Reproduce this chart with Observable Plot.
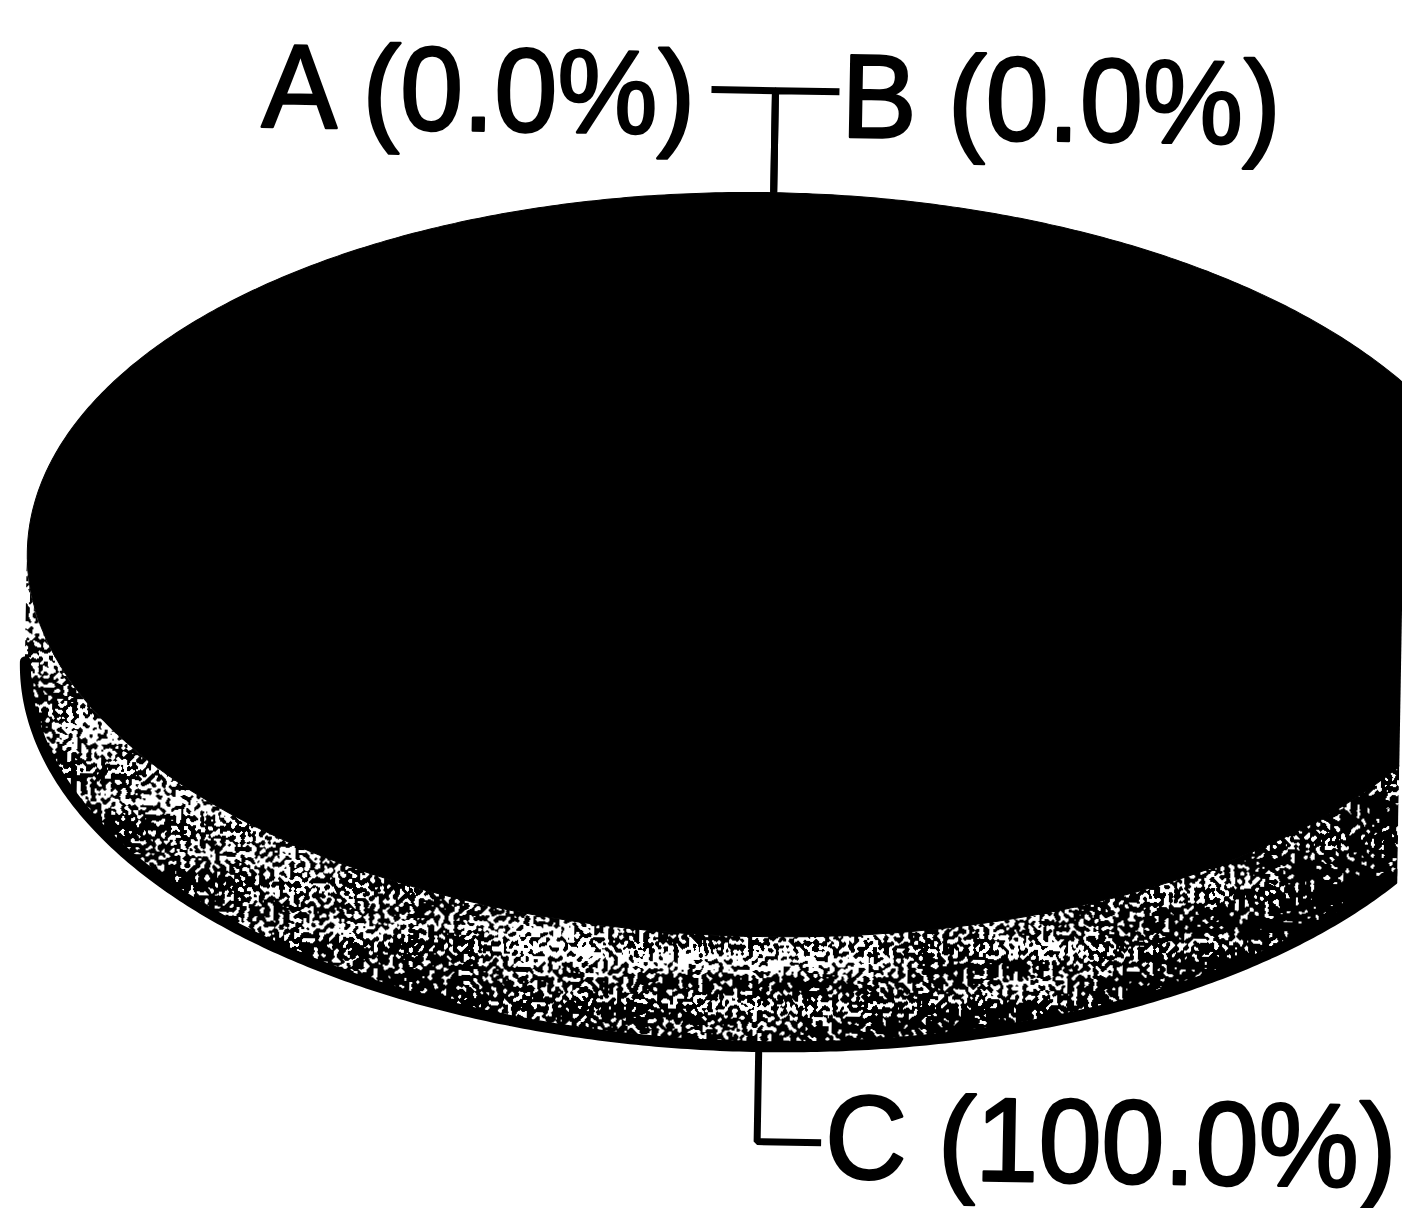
<!DOCTYPE html>
<html>
<head>
<meta charset="utf-8">
<script src="https://cdn.jsdelivr.net/npm/d3@7"></script>
<script src="https://cdn.jsdelivr.net/npm/@observablehq/plot@0.6"></script>
<style>
  html, body { margin: 0; padding: 0; background: #fff; overflow: hidden; }
  #chart svg { display: block; transform: rotate(1deg); transform-origin: 701px 604px; }
</style>
</head>
<body>
<div id="chart"></div>
<script>
// ---- data ----
const categories = ["A", "B", "C"];
const values = [0, 0, 100];

// ---- layout (geometry of the 3D ellipse, pixels) ----
const W = 1402, H = 1208;
const cx = 766, cy = 563, rx = 740, ry = 372, depth = 110;
const fontSize = 113;

const total = d3.sum(values);
const arcs = d3.pie().sort(null).value(d => d.value)(
  categories.map((c, i) => ({cat: c, value: values[i]}))
);
const P = a => [cx + rx * Math.sin(a), cy - ry * Math.cos(a)];
const step = Math.PI / 360;

// top face polygons, one per slice
const topFace = [];
arcs.forEach(a => {
  if (a.endAngle <= a.startAngle) return;
  topFace.push({cat: a.data.cat, x: cx, y: cy});
  for (let t = a.startAngle; t < a.endAngle; t += step) {
    const [x, y] = P(t); topFace.push({cat: a.data.cat, x, y});
  }
  const [x, y] = P(a.endAngle); topFace.push({cat: a.data.cat, x, y});
  topFace.push({cat: a.data.cat, x: cx, y: cy});
});

// visible side (front half) of each slice
const side = [];
arcs.forEach(a => {
  const s = Math.max(a.startAngle, Math.PI / 2), e = Math.min(a.endAngle, 3 * Math.PI / 2);
  if (e <= s) return;
  for (let t = s; t < e; t += step) {
    const [x, y] = P(t); side.push({cat: a.data.cat, x, y1: y, y2: y + depth});
  }
  const [x, y] = P(e); side.push({cat: a.data.cat, x, y1: y, y2: y + depth});
});

// labels and leader lines
const leaders = [];
const labels = [];
let topCount = 0;
arcs.forEach(a => {
  const m = (a.startAngle + a.endAngle) / 2;
  const pct = total ? a.data.value / total * 100 : 0;
  const text = `${a.data.cat} (${pct.toFixed(1)}%)`;
  if (Math.cos(m) >= 0) {
    const [ax, ay] = P(m);
    const ey = ay - 102;
    const dir = topCount++ % 2 === 0 ? -1 : 1;
    const end = ax + dir * 64;
    leaders.push({cat: a.data.cat, x: ax, y: ay}, {cat: a.data.cat, x: ax, y: ey}, {cat: a.data.cat, x: end, y: ey});
    labels.push({text, x: dir < 0 ? end - 16 : end + 2, y: ey + 45, anchor: dir < 0 ? "end" : "start"});
  } else {
    const [ax, ay0] = P(m);
    const ay = ay0 + depth;
    const ey = ay + 95;
    const end = ax + 64;
    leaders.push({cat: a.data.cat, x: ax, y: ay}, {cat: a.data.cat, x: ax, y: ey}, {cat: a.data.cat, x: end, y: ey});
    labels.push({text, x: end + 4, y: ey + 35, anchor: "start"});
  }
});

const textOpts = {x: "x", y: "y", text: "text", fontSize, fontFamily: "Liberation Sans, Arial, Helvetica, sans-serif",
  fill: "black", stroke: "black", strokeWidth: 2.5, lineAnchor: "bottom"};

const svg = Plot.plot({
  width: W, height: H, margin: 0,
  style: {background: "white"},
  x: {type: "identity", axis: null},
  y: {type: "identity", axis: null},
  marks: [
    // side of the disc (shading bands are combined and dithered below)
    Plot.area(side, {x1: "x", y1: "y1", y2: "y2", z: "cat", fill: "url(#sideShade)"}),
    Plot.area(side, {x1: "x", y1: "y1", y2: d => d.y1 + depth * 0.35, z: "cat", fill: "white", fillOpacity: 0.12}),
    Plot.area(side, {x1: "x", y1: d => d.y2 - depth * 0.3, y2: "y2", z: "cat", fill: "black", fillOpacity: 0.2}),
    Plot.line(side, {x: "x", y: "y2", z: "cat", stroke: "black", strokeWidth: 11}),
    Plot.line(topFace, {x: "x", y: "y", z: "cat", fill: "black", stroke: "black", strokeWidth: 1}),
    Plot.line(leaders, {x: "x", y: "y", z: "cat", stroke: "black", strokeWidth: 7, strokeLinejoin: "miter", strokeLinecap: "butt"}),
    Plot.text(labels.filter(d => d.anchor === "end"), {...textOpts, textAnchor: "end"}),
    Plot.text(labels.filter(d => d.anchor === "start"), {...textOpts, textAnchor: "start"})
  ]
});

const sel = d3.select(svg);
sel.insert("defs", ":first-child").html(`
  <linearGradient id="sideShade" gradientUnits="userSpaceOnUse" x1="26" y1="0" x2="1506" y2="0">
    <stop offset="0" stop-color="rgb(112,112,112)"/>
    <stop offset="0.45" stop-color="rgb(110,110,110)"/>
    <stop offset="0.7" stop-color="rgb(104,104,104)"/>
    <stop offset="0.84" stop-color="rgb(75,75,75)"/>
    <stop offset="1" stop-color="rgb(40,40,40)"/>
  </linearGradient>
  <filter id="dither" filterUnits="userSpaceOnUse" x="0" y="0" width="${W}" height="${H}" color-interpolation-filters="sRGB">
    <feTurbulence type="fractalNoise" baseFrequency="0.2" numOctaves="1" seed="4" result="fineRaw"/>
    <feColorMatrix in="fineRaw" type="matrix" values="3 0 0 0 -1  3 0 0 0 -1  3 0 0 0 -1  0 0 0 0 1" result="fine"/>
    <feTurbulence type="fractalNoise" baseFrequency="0.006 0.04" numOctaves="2" seed="9" result="coarseRaw"/>
    <feColorMatrix in="coarseRaw" type="matrix" values="2 0 0 0 -0.5  2 0 0 0 -0.5  2 0 0 0 -0.5  0 0 0 0 1" result="coarse"/>
    <feComposite in="fine" in2="coarse" operator="arithmetic" k1="0" k2="1" k3="0.45" k4="-0.225" result="t1"/>
    <feComposite in="t1" in2="SourceGraphic" operator="arithmetic" k1="0" k2="1" k3="1.5" k4="-0.75" result="t2"/>
    <feColorMatrix in="t2" type="matrix" values="0 0 0 0 0  0 0 0 0 0  0 0 0 0 0  -1 0 0 0 1" result="inkA"/>
    <feComponentTransfer in="inkA" result="ink"><feFuncA type="discrete" tableValues="0 1"/></feComponentTransfer>
    <feFlood flood-color="#ffffff" result="paper"/>
    <feComposite in="ink" in2="paper" operator="over" result="bw"/>
    <feComposite in="bw" in2="SourceAlpha" operator="in"/>
  </filter>`);
// gather the three side layers into one group and dither them together
const areaGroups = sel.selectAll("g[aria-label='area']").nodes();
if (areaGroups.length) {
  const wrap = document.createElementNS("http://www.w3.org/2000/svg", "g");
  wrap.setAttribute("filter", "url(#dither)");
  areaGroups[0].parentNode.insertBefore(wrap, areaGroups[0]);
  areaGroups.forEach(g => wrap.appendChild(g));
}
sel.selectAll("g[aria-label='text'] text").each(function () {
  const t = this.getAttribute("transform");
  if (t) this.setAttribute("transform", t + " scale(1,1.05)");
});

document.getElementById("chart").appendChild(svg);
</script>
</body>
</html>
